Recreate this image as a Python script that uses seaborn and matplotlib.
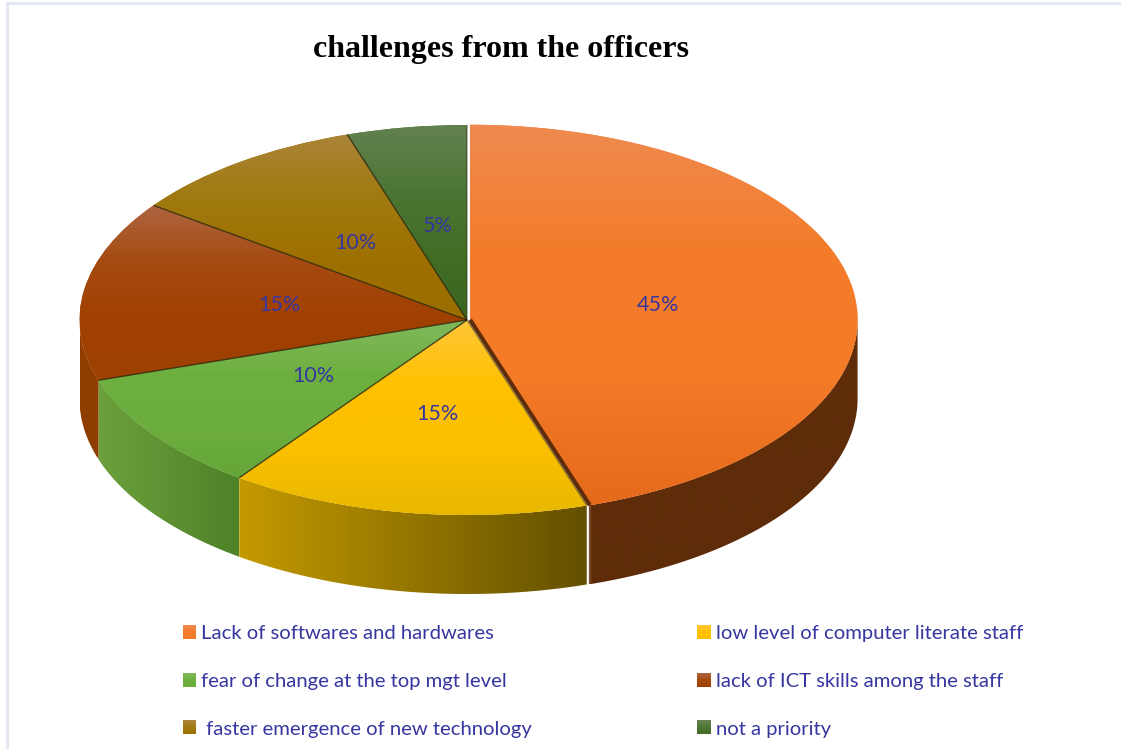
import numpy as np
import matplotlib
matplotlib.use("Agg")
import matplotlib.pyplot as plt
from matplotlib.patches import Polygon, Rectangle
from matplotlib.legend_handler import HandlerBase
import seaborn as sns

title = "challenges from the officers"
categories = ["Lack of softwares and hardwares", "low level of computer literate staff",
              "fear of change at the top mgt level", "lack of ICT skills among the staff",
              " faster emergence of new technology", "not a priority"]
values = [45, 15, 10, 15, 10, 5]
top_colors = [["#EF8A50", "#F47C2A", "#F47B28", "#E56A1C"],
              ["#FFC63A", "#FFC000", "#FBC000", "#E8B800"],
              ["#80B95C", "#6EB040", "#6CAE3E", "#66A63A"],
              ["#AF6540", "#A54A10", "#A04000", "#9E4000"],
              ["#AB8438", "#A07A10", "#9E7000", "#9A6E00"],
              ["#62814F", "#4C7535", "#426D25", "#3C6620"]]
wall_colors = [["#5F2C0A", "#5F2C0A"], ["#C49A00", "#635000"], ["#6CA03C", "#4E8228"],
               ["#8F3D00", "#8F3D00"], ["#7A5500", "#7A5500"], ["#335518", "#335518"]]
text_color = "#3636A0"

sns.set_theme(style="white")
plt.rcParams["font.family"] = ["Lato", "DejaVu Sans"]

W, H = 1121, 749
fig = plt.figure(figsize=(W / 100, H / 100), dpi=100, facecolor="white")
ax = fig.add_axes([0, 0, 1, 1])

CX, CY, RX, RY, DEPTH = 467, 320, 387.5, 195, 79
wedges, _, autos = ax.pie(values, startangle=90, counterclock=False, radius=1,
                          explode=[0.008, 0, 0, 0, 0, 0], autopct="%.0f%%",
                          pctdistance=0.49, colors=[c[1] for c in top_colors],
                          wedgeprops=dict(linewidth=0),
                          textprops=dict(color=text_color, fontsize=15.5))
ax.set_aspect("auto")
xlim = ((0 - CX) / RX, (W - CX) / RX)
ylim = ((CY - H) / RY, (CY - 0) / RY)
depth = DEPTH / RY


def arc(w, a, b, dy=0.0):
    t = np.radians(np.linspace(a, b, 120))
    return np.column_stack([w.center[0] + w.r * np.cos(t), w.center[1] + w.r * np.sin(t) - dy])


for w, top, wall in zip(wedges, top_colors, wall_colors):
    w.set_zorder(3)
    # side wall, only where the rim faces the viewer
    a, b = max(w.theta1, -180), min(w.theta2, 0)
    if b > a:
        upper = arc(w, a, b)
        lower = arc(w, a, b, depth)
        poly = Polygon(np.vstack([upper, lower[::-1]]), closed=True, transform=ax.transData,
                       facecolor="none", edgecolor="none")
        ax.add_patch(poly)
        cmap = sns.blend_palette(wall, as_cmap=True)
        im = ax.imshow(np.linspace(0, 1, 256)[None, :], cmap=cmap, aspect="auto", zorder=2,
                       extent=[upper[:, 0].min(), upper[:, 0].max(), lower[:, 1].min(), upper[:, 1].max()])
        im.set_clip_path(poly)
    # top face with a vertical gradient
    rim = arc(w, w.theta1, w.theta2)
    ymax = max(rim[:, 1].max(), w.center[1])
    ymin = min(rim[:, 1].min(), w.center[1])
    xmin = min(rim[:, 0].min(), w.center[0])
    xmax = max(rim[:, 0].max(), w.center[0])
    cmap = sns.blend_palette(top, as_cmap=True)
    im = ax.imshow(np.linspace(0, 1, 256)[:, None], cmap=cmap, aspect="auto", zorder=4,
                   extent=[xmin, xmax, ymin, ymax], origin="upper")
    im.set_clip_path(w)

# dark seams between slices, and the exposed cut face of the pulled-out slice
for w, top in zip(wedges[1:], top_colors[1:]):
    for ang in (w.theta1, w.theta2):
        p = arc(w, ang, ang)[0]
        ax.plot([w.center[0], p[0]], [w.center[1], p[1]], color="#2E2A10", lw=0.9, alpha=0.55,
                zorder=5, solid_capstyle="butt")
w0 = wedges[0]
p0 = arc(w0, w0.theta1, w0.theta1)[0]
ax.plot([w0.center[0], p0[0]], [w0.center[1], p0[1]], color=wall_colors[0][0], lw=3,
        zorder=5, solid_capstyle="butt")
ax.plot([p0[0], p0[0]], [p0[1], p0[1] - depth], color="#7A4A2A", lw=1.6, zorder=5, solid_capstyle="butt")

for t in autos:
    t.set_zorder(6)

ax.set(xlim=xlim, ylim=ylim, xticks=[], yticks=[])
ax.set_frame_on(False)

fig.text(501 / W, 1 - 50 / H, title, ha="center", va="center", family="Liberation Serif",
         weight="bold", fontsize=23, color="black")


class GradientBox(HandlerBase):
    def __init__(self, colors):
        super().__init__()
        self.colors = colors

    def create_artists(self, legend, orig, xd, yd, width, height, fontsize, trans):
        pal = sns.blend_palette(self.colors, 8)
        out = []
        for i, c in enumerate(pal):
            out.append(Rectangle((-xd, -yd + height * (7 - i) / 8), width, height / 8 + 0.2,
                                 facecolor=c, edgecolor="none", transform=trans))
        return out


row_order = [0, 2, 4, 1, 3, 5]
handles = [Rectangle((0, 0), 1, 1, facecolor=top_colors[i][1]) for i in row_order]
labels = [categories[i] for i in row_order]
hmap = {h: GradientBox(top_colors[i][:3]) for h, i in zip(handles, row_order)}
leg = fig.legend(handles, labels, ncols=2, frameon=False, fontsize=14.6, labelcolor=text_color,
                 loc="upper left", bbox_to_anchor=(183 / W, 1 - 625 / H), borderaxespad=0, borderpad=0,
                 handlelength=0.65, handleheight=0.67, handletextpad=0.25,
                 columnspacing=8.15, labelspacing=1.52, handler_map=hmap)

# light frame of the pasted picture
fig.add_artist(Rectangle((6 / W, 0), 3 / W, 1 - 2 / H, transform=fig.transFigure,
                         facecolor="#E3E8F2", edgecolor="none"))
fig.add_artist(Rectangle((6 / W, 1 - 5 / H), 1 - 6 / W, 3 / H, transform=fig.transFigure,
                         facecolor="#E3E8F2", edgecolor="none"))

fig.savefig("out.png", dpi=100, facecolor="white")
